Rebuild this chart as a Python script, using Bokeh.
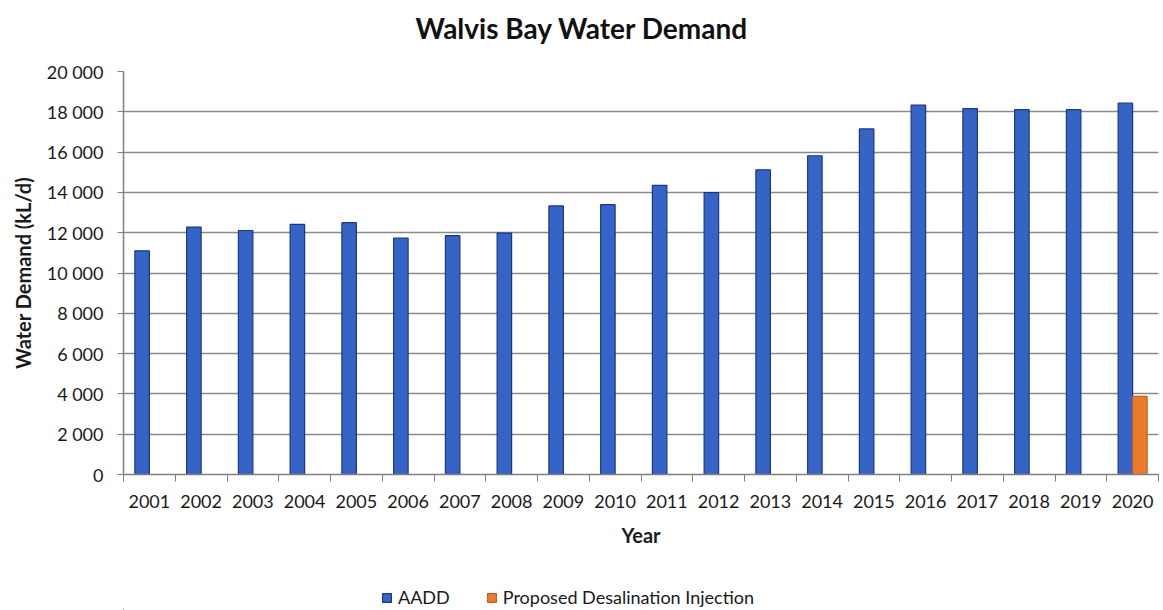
import numpy as np
from bokeh.plotting import figure
from bokeh.layouts import column
from bokeh.core.properties import value
from bokeh.models import (ColumnDataSource, Range1d, FixedTicker, Legend, LegendItem)
from bokeh.transform import dodge
from bokeh.embed import file_html
from bokeh.resources import INLINE

# Annual average daily demand (kL/d) per year
years = ["2001", "2002", "2003", "2004", "2005", "2006", "2007", "2008", "2009", "2010",
         "2011", "2012", "2013", "2014", "2015", "2016", "2017", "2018", "2019", "2020"]
aadd = [11100, 12280, 12110, 12410, 12500, 11730, 11850, 11980, 13330, 13390,
        14350, 13990, 15120, 15820, 17150, 18330, 18160, 18110, 18110, 18430]
desal = [0, 0, 0, 0, 0, 0, 0, 0, 0, 0,
         0, 0, 0, 0, 0, 0, 0, 0, 0, 3880]

y_ticks = [0, 2000, 4000, 6000, 8000, 10000, 12000, 14000, 16000, 18000, 20000]
y_tick_labels = ["0", "2 000", "4 000", "6 000", "8 000", "10 000",
                 "12 000", "14 000", "16 000", "18 000", "20 000"]

TITLE = "Walvis Bay Water Demand"
FONT = "Lato"
BLUE, BLUE_EDGE = "#3663C6", "#1B3787"
ORANGE, ORANGE_EDGE = "#EE7A2E", "#C0601F"
W = 1163
LEFT, RIGHT = 123, 5
HEAD_H, MAIN_H, LEG_H = 50, 525, 35


def strip(height):
    """Axis-less band used for the heading and the legend (pixel x coordinates)."""
    f = figure(width=W, height=height, output_backend="svg", toolbar_location=None,
               x_axis_type=None, y_axis_type=None,
               min_border_left=LEFT, min_border_right=RIGHT,
               min_border_top=0, min_border_bottom=0,
               x_range=Range1d(LEFT, W - RIGHT), y_range=Range1d(0, height))
    f.outline_line_color = None
    f.xgrid.grid_line_color = None
    f.ygrid.grid_line_color = None
    return f


# Heading
head = strip(HEAD_H)
head.text(x=[W / 2], y=[HEAD_H - 27], text=[TITLE], text_font=value(FONT),
          text_font_size="28px", text_font_style="bold", text_color="#111111",
          text_align="center", text_baseline="middle")

# Main bar chart
n = len(years)
pos = np.arange(n) + 0.5
source = ColumnDataSource(dict(x=pos, aadd=aadd, desal=desal))

p = figure(width=W, height=MAIN_H, output_backend="svg", toolbar_location=None,
           x_range=Range1d(0, n), y_range=Range1d(0, 20000),
           min_border_left=LEFT, min_border_right=RIGHT, min_border_top=71 - HEAD_H,
           min_border_bottom=MAIN_H - (71 - HEAD_H) - 403)
p.background_fill_color = "white"
p.border_fill_color = "white"
p.outline_line_color = None

bw = 0.28
p.vbar(x=dodge("x", -bw / 2, range=p.x_range), top="aadd", width=bw, source=source,
       fill_color=BLUE, line_color=BLUE_EDGE, line_width=1.2)
p.vbar(x=dodge("x", bw / 2, range=p.x_range), top="desal", width=bw, source=source,
       fill_color=ORANGE, line_color=ORANGE_EDGE, line_width=1.2)

# X axis: labels at category centres, tick marks on category boundaries
xa = p.xaxis[0]
xa.ticker = FixedTicker(ticks=list(pos), minor_ticks=list(range(n + 1)))
xa.major_label_overrides = {float(v): lab for v, lab in zip(pos, years)}
xa.major_tick_out = 0
xa.major_tick_in = 0
xa.minor_tick_out = 7
xa.minor_tick_in = 0
xa.minor_tick_line_color = "#7f7f7f"
xa.axis_line_color = "#7f7f7f"
xa.axis_line_width = 1.5
xa.major_label_text_font = FONT
xa.major_label_text_font_size = "18px"
xa.major_label_text_color = "#1a1a1a"
xa.major_label_standoff = 13
xa.axis_label = "Year"
xa.axis_label_text_font = FONT
xa.axis_label_text_font_size = "20px"
xa.axis_label_text_font_style = "bold"
xa.axis_label_text_color = "#1a1a1a"
xa.axis_label_standoff = 12

# Y axis
ya = p.yaxis[0]
ya.ticker = FixedTicker(ticks=y_ticks)
ya.major_label_overrides = {t: lab for t, lab in zip(y_ticks, y_tick_labels)}
ya.major_tick_out = 6
ya.major_tick_in = 0
ya.minor_tick_line_color = None
ya.major_tick_line_color = "#7f7f7f"
ya.axis_line_color = "#7f7f7f"
ya.axis_line_width = 1.5
ya.major_label_text_font = FONT
ya.major_label_text_font_size = "18px"
ya.major_label_text_color = "#1a1a1a"
ya.major_label_standoff = 14
ya.axis_label = "Water Demand (kL/d)"
ya.axis_label_text_font = FONT
ya.axis_label_text_font_size = "20px"
ya.axis_label_text_font_style = "bold"
ya.axis_label_text_color = "#1a1a1a"
ya.axis_label_standoff = 9

p.xgrid.grid_line_color = None
p.ygrid.grid_line_color = "#8a8a8a"
p.ygrid.grid_line_width = 1.5

# Legend band: key glyphs sit outside the band's visible range
leg = strip(LEG_H)
leg.min_border_top = 9
k1 = leg.vbar(x=[-50], top=[1], width=1, fill_color=BLUE, line_color=BLUE_EDGE, line_width=1.2)
k2 = leg.vbar(x=[-50], top=[1], width=1, fill_color=ORANGE, line_color=ORANGE_EDGE, line_width=1.2)
legend = Legend(items=[LegendItem(label="AADD", renderers=[k1]),
                       LegendItem(label="Proposed Desalination Injection", renderers=[k2])],
                orientation="horizontal", location=(381 - LEFT, 2),
                label_text_font=FONT, label_text_font_size="18px",
                label_text_color="#1a1a1a", glyph_width=11, glyph_height=11,
                spacing=36, border_line_color=None, background_fill_alpha=0,
                margin=0, padding=0, label_standoff=6)
leg.add_layout(legend, "center")

open("out.html", "w").write(file_html(column(head, p, leg, spacing=0), INLINE))
